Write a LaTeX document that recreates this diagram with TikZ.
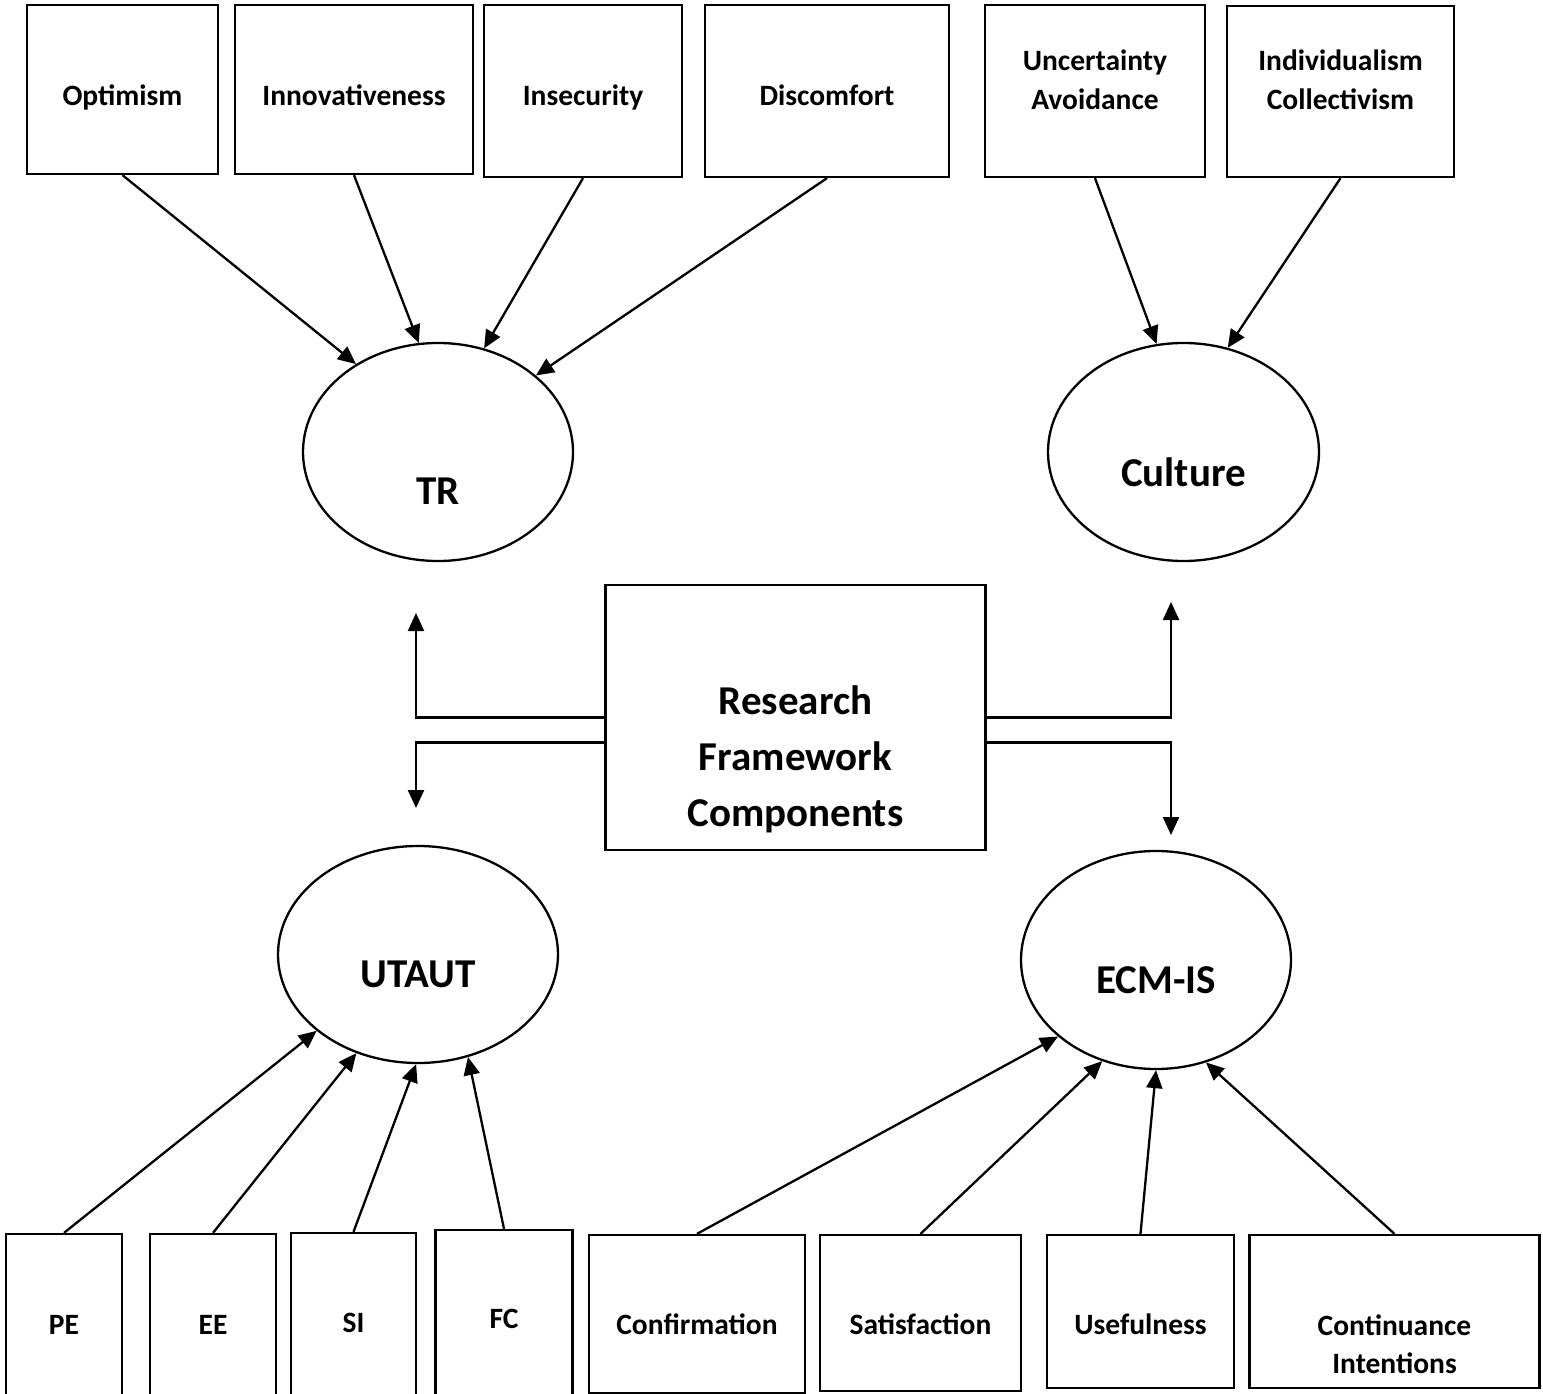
\documentclass[tikz,border=0pt]{standalone}
\usepackage{fontspec}
\setmainfont{Carlito}
\usetikzlibrary{arrows.meta,shapes.geometric}
\begin{document}
\begin{tikzpicture}[x=1pt,y=-1pt,
  box/.style={draw,line width=2.3pt,rectangle,inner sep=0pt},
  oval/.style={draw,line width=2.3pt,ellipse,inner sep=0pt},
  small/.style={font=\fontsize{29.5}{36}\selectfont\bfseries,anchor=base,inner sep=0pt},
  big/.style={font=\fontsize{41}{50}\selectfont\bfseries,anchor=base,inner sep=0pt},
  link/.style={line width=2.3pt,-{Triangle[length=18pt,width=16pt]}}]
\clip (0,0) rectangle (1543,1394);
\fill[white] (0,0) rectangle (1543,1394);

% ---- indicator boxes, top row
\node[box,minimum width=191pt,minimum height=169pt] (opt) at (122.5,89.5) {};
\node[box,minimum width=238pt,minimum height=169pt] (inn) at (354,89.5) {};
\node[box,minimum width=198pt,minimum height=172pt] (insec) at (583,91) {};
\node[box,minimum width=244pt,minimum height=172pt] (disc) at (827,91) {};
\node[box,minimum width=220pt,minimum height=172pt] (unc) at (1095,91) {};
\node[box,minimum width=227pt,minimum height=171pt] (ind) at (1340.5,91.5) {};

\node[small] (optT) at (122.5,106) {Optimism};
\node[small] (innT) at (354,106) {Innovativeness};
\node[small] (insecT) at (583,106) {Insecurity};
\node[small] (discT) at (827,106) {Discomfort};
\node[small] (uncT1) at (1095,71) {Uncertainty};
\node[small] (uncT2) at (1095,110) {Avoidance};
\node[small] (indT1) at (1340.5,71) {Individualism};
\node[small] (indT2) at (1340.5,110) {Collectivism};

% ---- constructs
\node[oval,minimum width=270pt,minimum height=218pt] (tr) at (438,452) {};
\node[oval,minimum width=271pt,minimum height=218pt] (cul) at (1183.5,452) {};
\node[oval,minimum width=280pt,minimum height=217pt] (utaut) at (418,954.5) {};
\node[oval,minimum width=270pt,minimum height=218pt] (ecm) at (1156,960) {};

\node[big] (trT) at (438,504) {TR};
\node[big] (culT) at (1183.5,486) {Culture};
\node[big] (utautT) at (418,987) {UTAUT};
\node[big] (ecmT) at (1156,993) {ECM-IS};

% ---- central box
\node[box,minimum width=380pt,minimum height=265pt] (rfc) at (795.5,717.5) {};
\node[big] (rfcT1) at (795.5,714) {Research};
\node[big] (rfcT2) at (795.5,770) {Framework};
\node[big] (rfcT3) at (795.5,826) {Components};

% ---- indicator boxes, bottom row
\node[box,minimum width=116.5pt,minimum height=216pt] (pe) at (64,1342) {};
\node[box,minimum width=126pt,minimum height=216pt] (ee) at (213,1342) {};
\node[box,minimum width=125pt,minimum height=218pt] (si) at (353.5,1342) {};
\node[box,minimum width=137pt,minimum height=224pt] (fc) at (504,1342) {};
\node[box,minimum width=216pt,minimum height=158pt] (conf) at (697,1314) {};
\node[box,minimum width=201pt,minimum height=156pt] (sat) at (920.5,1313) {};
\node[box,minimum width=187pt,minimum height=153pt] (use) at (1140.5,1311.5) {};
\node[box,minimum width=290pt,minimum height=153pt] (cont) at (1394.5,1311.5) {};

\node[small] (peT) at (64,1334) {PE};
\node[small] (eeT) at (213,1334) {EE};
\node[small] (siT) at (353.5,1332) {SI};
\node[small] (fcT) at (504,1328) {FC};
\node[small] (confT) at (697,1334) {Confirmation};
\node[small] (satT) at (920.5,1334) {Satisfaction};
\node[small] (useT) at (1140.5,1334) {Usefulness};
\node[small] (contT1) at (1394.5,1335) {Continuance};
\node[small] (contT2) at (1394.5,1373) {Intentions};

% ---- indicator arrows
\draw[link] (opt.south) -- (tr.133.4);
\draw[link] (inn.south) -- (tr.100.9);
\draw[link] (insec.south) -- (tr.66.3);
\draw[link] (disc.south) -- (tr.38.7);
\draw[link] (unc.south) -- (cul.104.2);
\draw[link] (ind.south) -- (cul.67.8);

\draw[link] (pe.north) -- (utaut.217.8);
\draw[link] (ee.north) -- (utaut.238.1);
\draw[link] (si.north) -- (utaut.269.5);
\draw[link] (fc.north) -- (utaut.296.9);
\draw[link] (conf.north) -- (ecm.218.4);
\draw[link] (sat.north) -- (ecm.242.1);
\draw[link] (use.north) -- (ecm.270);
\draw[link] (cont.north) -- (ecm.296.6);

% ---- elbow connectors from the central box
\coordinate (trIn) at (416,613);
\coordinate (utIn) at (416,808);
\coordinate (culIn) at (1171,602);
\coordinate (ecmIn) at (1171,835);
\draw[link] (rfc.west) -| (trIn);
\draw[link] ([yshift=-25pt]rfc.west) -| (utIn);
\draw[link] (rfc.east) -| (culIn);
\draw[link] ([yshift=-25pt]rfc.east) -| (ecmIn);
\end{tikzpicture}
\end{document}
